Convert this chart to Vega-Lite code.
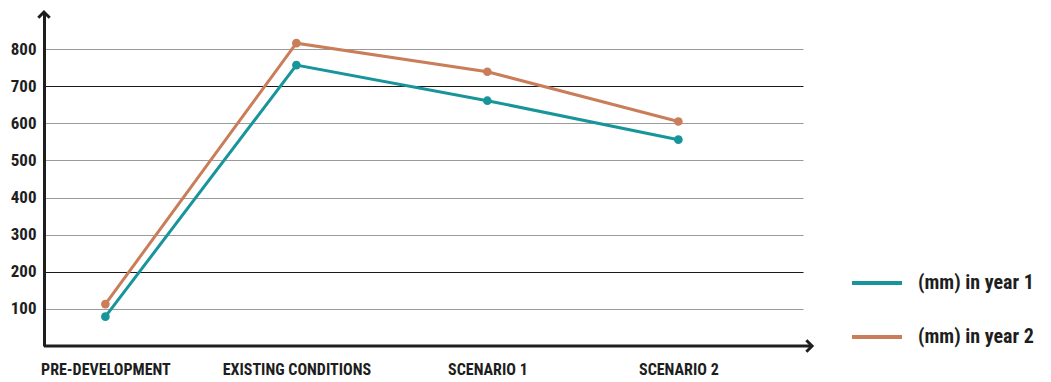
{
  "$schema": "https://vega.github.io/schema/vega-lite/v6.json",
  "width": 759,
  "height": 334,
  "autosize": {"type": "none"},
  "padding": {"left": 44, "top": 12, "right": 248, "bottom": 36},
  "config": {
    "view": {"stroke": null},
    "font": "Roboto Condensed, Liberation Sans Narrow, Roboto, sans-serif",
    "axis": {"labelFont": "Roboto Condensed, Liberation Sans Narrow, Roboto, sans-serif", "labelFontWeight": "bold", "labelColor": "#1e1e1e"},
    "legend": {"labelFont": "Roboto Condensed, Liberation Sans Narrow, Roboto, sans-serif"}
  },
  "resolve": {"scale": {"x": "independent"}, "axis": {"x": "independent"}},
  "layer": [
    {
      "data": {
        "values": [
          {"stage": "PRE-DEVELOPMENT", "series": "(mm) in year 1", "mm": 79},
          {"stage": "EXISTING CONDITIONS", "series": "(mm) in year 1", "mm": 757},
          {"stage": "SCENARIO 1", "series": "(mm) in year 1", "mm": 661},
          {"stage": "SCENARIO 2", "series": "(mm) in year 1", "mm": 556},
          {"stage": "PRE-DEVELOPMENT", "series": "(mm) in year 2", "mm": 113},
          {"stage": "EXISTING CONDITIONS", "series": "(mm) in year 2", "mm": 816},
          {"stage": "SCENARIO 1", "series": "(mm) in year 2", "mm": 739},
          {"stage": "SCENARIO 2", "series": "(mm) in year 2", "mm": 605}
        ]
      },
      "mark": {"type": "line", "strokeWidth": 3, "point": {"filled": true, "size": 75}},
      "encoding": {
        "x": {
          "field": "stage",
          "type": "nominal",
          "sort": null,
          "scale": {"type": "point", "padding": 0.487, "align": 0.33},
          "axis": {
            "title": null,
            "domain": false,
            "ticks": false,
            "grid": false,
            "labelAngle": 0,
            "labelFontSize": 16,
            "labelPadding": 15
          }
        },
        "y": {
          "field": "mm",
          "type": "quantitative",
          "scale": {"domain": [0, 900], "nice": false},
          "axis": {
            "title": null,
            "values": [100, 200, 300, 400, 500, 600, 700, 800],
            "domain": true,
            "domainWidth": 3,
            "domainColor": "#1e1e1e",
            "ticks": false,
            "labelFontSize": 17,
            "labelPadding": 8,
            "grid": true,
            "gridWidth": 1.2,
            "gridColor": {
              "condition": {"test": "datum.value === 700 || datum.value === 200", "value": "#1a1a1a"},
              "value": "#9a9a9a"
            }
          }
        },
        "color": {
          "field": "series",
          "type": "nominal",
          "scale": {"domain": ["(mm) in year 1", "(mm) in year 2"], "range": ["#17959b", "#c97d59"]},
          "legend": {
            "title": null,
            "orient": "none",
            "legendX": 806,
            "legendY": 244,
            "padding": 0,
            "symbolType": "stroke",
            "symbolSize": 2500,
            "symbolStrokeWidth": 4,
            "labelFontSize": 20,
            "labelFontWeight": "bold",
            "labelColor": "#1e1e1e",
            "labelOffset": 14,
            "rowPadding": 17
          }
        }
      }
    },
    {
      "data": {"values": [{}]},
      "layer": [
        {
          "mark": {"type": "rule", "strokeWidth": 3, "color": "#1e1e1e"},
          "encoding": {
            "x": {"datum": 0, "type": "quantitative", "scale": {"domain": [0, 1], "nice": false, "zero": false}, "axis": null},
            "x2": {"datum": 1.01},
            "y": {"datum": 0, "type": "quantitative"}
          }
        },
        {
          "mark": {"type": "point", "shape": "M-1,-1L0,0L-1,1", "filled": false, "strokeWidth": 3, "color": "#1e1e1e", "size": 130, "opacity": 1},
          "encoding": {
            "x": {"datum": 1.0119, "type": "quantitative"},
            "y": {"datum": 0, "type": "quantitative"}
          }
        },
        {
          "mark": {"type": "point", "shape": "M-1,1L0,0L1,1", "filled": false, "strokeWidth": 3, "color": "#1e1e1e", "size": 130, "opacity": 1},
          "encoding": {
            "x": {"datum": 0, "type": "quantitative"},
            "y": {"datum": 900, "type": "quantitative"}
          }
        }
      ]
    }
  ]
}
